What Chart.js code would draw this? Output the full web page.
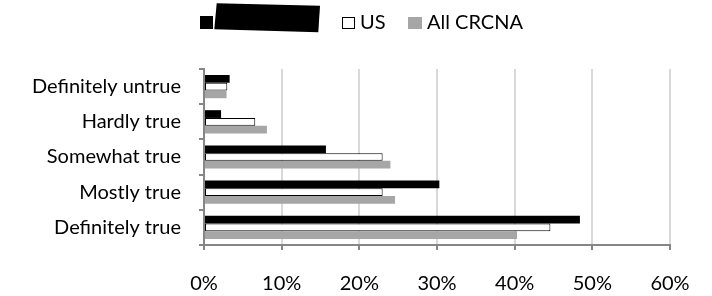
<!DOCTYPE html>
<html>
<head>
<meta charset="utf-8">
<script src="https://cdn.jsdelivr.net/npm/chart.js@4"></script>
<style>
  html, body { margin: 0; padding: 0; background: #fff; }
  #wrap { width: 712px; height: 296px; }
</style>
</head>
<body>
<div id="wrap"><canvas id="chart" width="712" height="296"></canvas></div>
<script>
// survey answers, top to bottom
const categories = ['Definitely untrue', 'Hardly true', 'Somewhat true', 'Mostly true', 'Definitely true'];
const seriesLabels = ['Canada', 'US', 'All CRCNA'];
// percent of respondents
const canadaValues = [3.3, 2.2, 15.7, 30.3, 48.4];
const usValues = [3.0, 6.6, 23.0, 23.0, 44.6];
const allValues = [2.9, 8.1, 24.0, 24.6, 40.3];
const xTicks = [0, 10, 20, 30, 40, 50, 60];

const FONT = 'Lato, "Liberation Sans", sans-serif';

// legend drawn by hand so it sits where the original one does
const legendPlugin = {
    id: 'topLegend',
    afterDraw(chart) {
        const ctx = chart.ctx;
        const ds = chart.data.datasets;
        const spots = [
            { box: [200, 16, 13, 13], tx: 218 },
            { box: [342.5, 17.5, 12, 11], tx: 360 },
            { box: [408, 17, 14, 12], tx: 427 }
        ];
        ctx.save();
        ctx.font = '20px ' + FONT;
        ctx.textBaseline = 'middle';
        ds.forEach((d, i) => {
            const [x, y, w, h] = spots[i].box;
            ctx.fillStyle = d.backgroundColor;
            ctx.fillRect(x, y, w, h);
            if (d.borderWidth) {
                ctx.strokeStyle = d.borderColor;
                ctx.lineWidth = 1;
                ctx.strokeRect(x, y, w, h);
            }
            ctx.fillStyle = '#000';
            ctx.fillText(d.label, spots[i].tx, 23);
        });
        // the first label is blacked out in the original
        ctx.fillStyle = '#000';
        ctx.beginPath();
        ctx.moveTo(216.7, 3.3);
        ctx.lineTo(320, 5.7);
        ctx.lineTo(318.3, 32.3);
        ctx.lineTo(214.3, 29.3);
        ctx.closePath();
        ctx.fill();
        ctx.restore();
    }
};

const ctx = document.getElementById('chart').getContext('2d');
new Chart(ctx, {
    type: 'bar',
    data: {
        labels: categories,
        datasets: [
            { label: seriesLabels[0], data: canadaValues, backgroundColor: '#000000', borderWidth: 0 },
            { label: seriesLabels[1], data: usValues, backgroundColor: '#ffffff', borderColor: '#000000', borderWidth: 1, borderSkipped: false },
            { label: seriesLabels[2], data: allValues, backgroundColor: '#a6a6a6', borderWidth: 0 }
        ]
    },
    options: {
        indexAxis: 'y',
        responsive: false,
        animation: false,
        devicePixelRatio: 1,
        layout: { padding: { top: 69, right: 42, left: 0, bottom: 0 } },
        datasets: { bar: { categoryPercentage: 0.66, barPercentage: 1.0 } },
        plugins: {
            legend: { display: false },
            tooltip: { enabled: false }
        },
        scales: {
            x: {
                min: xTicks[0],
                max: xTicks[xTicks.length - 1],
                afterBuildTicks(axis) {
                    axis.ticks = xTicks.map(v => ({ value: v }));
                },
                afterFit(axis) { axis.height = 51; },
                ticks: {
                    callback: v => v + '%',
                    color: '#000',
                    font: { family: FONT, size: 20 },
                    padding: 22,
                    maxRotation: 0
                },
                grid: {
                    color: '#d9d9d9',
                    lineWidth: 2,
                    tickColor: '#868686',
                    tickLength: 5
                },
                border: { color: '#868686', width: 2 }
            },
            y: {
                afterFit(axis) { axis.width = 204; },
                ticks: {
                    color: '#000',
                    font: { family: FONT, size: 20 },
                    padding: 18
                },
                grid: {
                    offset: true,
                    drawOnChartArea: false,
                    tickColor: '#868686',
                    tickLength: 5,
                    lineWidth: 2
                },
                border: { color: '#868686', width: 2 }
            }
        }
    },
    plugins: [legendPlugin]
});
</script>
</body>
</html>
